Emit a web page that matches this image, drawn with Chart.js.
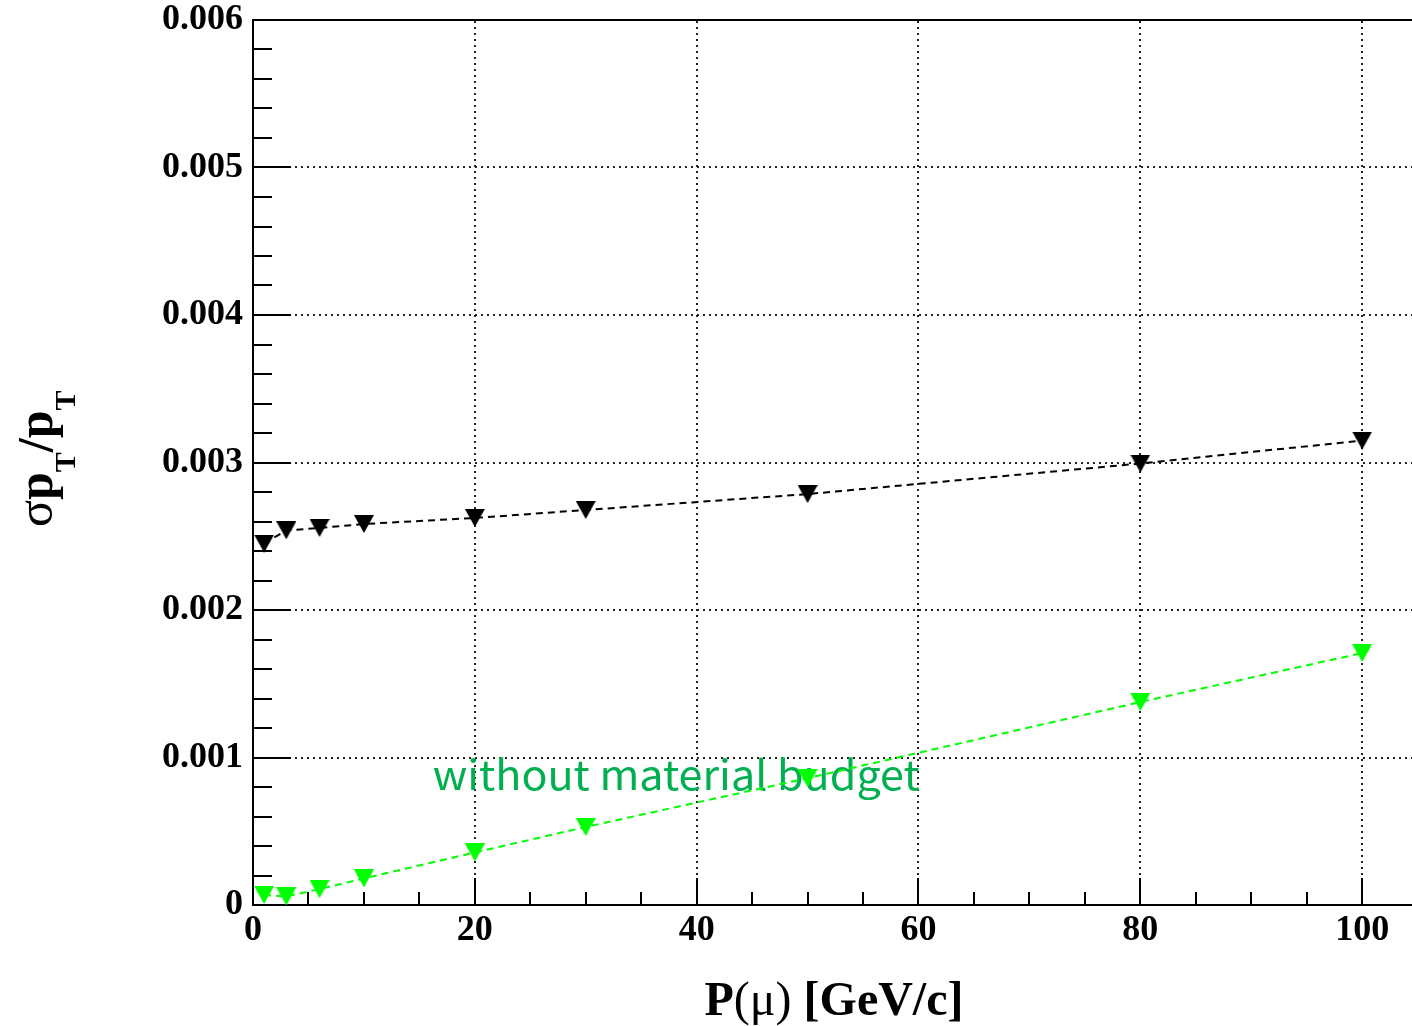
<!DOCTYPE html>
<html>
<head>
<meta charset="utf-8">
<title>pT resolution vs muon momentum</title>
<script src="https://cdn.jsdelivr.net/npm/chart.js@4.4.1/dist/chart.umd.min.js"></script>
<style>
	html, body { margin: 0; padding: 0; background: #fff; overflow: hidden; }
	#resolutionGraph { display: block; }
</style>
</head>
<body>
<canvas id="resolutionGraph" width="1412" height="1026"></canvas>
<script>
// muon momentum points [GeV/c]
const momentum = [1, 3, 6, 10, 20, 30, 50, 80, 100];
// sigma(pT)/pT, full detector
const withMaterial = [0.00245, 0.00254, 0.002556, 0.002583, 0.002624, 0.002678, 0.002786, 0.002993, 0.003149];
// sigma(pT)/pT, material budget switched off
const withoutMaterial = [0.000068, 0.000058, 0.000108, 0.00018, 0.000356, 0.000529, 0.00086, 0.001376, 0.001708];

const xTicks = [0, 20, 40, 60, 80, 100];
const yTicks = [0, 0.001, 0.002, 0.003, 0.004, 0.005, 0.006];
const xRange = [0, 104.45];
const yRange = [0, 0.006];

const SERIF = "'Liberation Serif', 'Times New Roman', serif";
const noMaterialLabel = "without material budget";

// downward triangle, centred on its bounding box
const makeTriangle = (color) => {
	const c = document.createElement("canvas");
	c.width = 20;
	c.height = 18;
	const g = c.getContext("2d");
	g.fillStyle = color;
	g.beginPath();
	g.moveTo(0, 0);
	g.lineTo(20, 0);
	g.lineTo(10, 18);
	g.closePath();
	g.fill();
	return c;
};

const toPoints = (ys) => momentum.map((x, i) => ({ x, y: ys[i] }));

// grid, axis frame and inward ticks
const framePlugin = {
	id: "frame",
	beforeDatasetsDraw(chart) {
		const { ctx, scales: { x, y } } = chart;
		const a = { ...chart.chartArea, right: chart.width };
		ctx.save();

		// dotted grid at the major ticks
		ctx.strokeStyle = "#222";
		ctx.lineWidth = 2;
		ctx.setLineDash([2, 4]);
		xTicks.forEach((v) => {
			if (v === 0) return;
			const px = Math.round(x.getPixelForValue(v));
			ctx.beginPath();
			ctx.moveTo(px, a.bottom);
			ctx.lineTo(px, a.top);
			ctx.stroke();
		});
		yTicks.forEach((v) => {
			if (v === 0 || v === yRange[1]) return;
			const py = Math.round(y.getPixelForValue(v));
			ctx.beginPath();
			ctx.moveTo(a.left, py);
			ctx.lineTo(a.right, py);
			ctx.stroke();
		});
		ctx.setLineDash([]);

		// frame: left, bottom, top
		ctx.strokeStyle = "#000";
		ctx.lineWidth = 2;
		ctx.beginPath();
		ctx.moveTo(a.right, a.top);
		ctx.lineTo(a.left, a.top);
		ctx.lineTo(a.left, a.bottom);
		ctx.lineTo(a.right, a.bottom);
		ctx.stroke();

		// x ticks: major every 20, minor every 5
		ctx.beginPath();
		for (let v = 0; v <= xRange[1]; v += 5) {
			const px = Math.round(x.getPixelForValue(v));
			const len = v % 20 === 0 ? 27 : 13;
			ctx.moveTo(px, a.bottom);
			ctx.lineTo(px, a.bottom - len);
		}
		// y ticks: major every 0.001, minor every 0.0002
		for (let i = 0; i <= 30; i++) {
			const py = Math.round(y.getPixelForValue(i * 0.0002));
			const len = i % 5 === 0 ? 38 : 19;
			ctx.moveTo(a.left, py);
			ctx.lineTo(a.left + len, py);
		}
		ctx.stroke();

		// series label, stretched to its fixed width
		ctx.fillStyle = "#00b050";
		ctx.font = "41px 'Noto Sans CJK JP', 'Noto Sans', sans-serif";
		ctx.textBaseline = "alphabetic";
		ctx.textAlign = "left";
		const lx = x.getPixelForValue(16.2);
		const ly = y.getPixelForValue(0.00078);
		const stretch = 487 / ctx.measureText(noMaterialLabel).width;
		ctx.translate(lx, ly);
		ctx.scale(stretch, 1);
		ctx.fillText(noMaterialLabel, 0, 0);

		ctx.restore();
	},
	afterDraw(chart) {
		const { ctx } = chart;
		ctx.save();
		ctx.fillStyle = "#000";
		ctx.textBaseline = "alphabetic";
		ctx.textAlign = "left";

		// x axis title: P(mu) [GeV/c]
		const parts = [
			["P", "bold 48px " + SERIF],
			["(\u03bc)", "48px " + SERIF],
			[" [GeV/c]", "bold 48px " + SERIF],
		];
		let total = 0;
		parts.forEach(([t, f]) => { ctx.font = f; total += ctx.measureText(t).width; });
		let cx = 834 - total / 2;
		parts.forEach(([t, f]) => {
			ctx.font = f;
			ctx.fillText(t, cx, 1015);
			cx += ctx.measureText(t).width;
		});

		// y axis title: sigma pT / pT, rotated
		ctx.translate(52, 527);
		ctx.rotate(-Math.PI / 2);
		const yParts = [
			["\u03c3", "50px " + SERIF, 0],
			["p", "bold 50px " + SERIF, 0],
			["T", "bold 30px " + SERIF, 23],
			["/", "bold 50px " + SERIF, 0],
			["p", "bold 50px " + SERIF, 0],
			["T", "bold 30px " + SERIF, 23],
		];
		let tx = 0;
		yParts.forEach(([t, f, dy]) => {
			ctx.font = f;
			ctx.fillText(t, tx, dy);
			tx += ctx.measureText(t).width;
		});
		ctx.restore();
	},
};

// markers are canvas images, so the radius only has to be non-zero
const seriesStyle = (color) => ({
	showLine: true,
	borderColor: color,
	borderWidth: 2,
	borderDash: [7, 5],
	pointStyle: makeTriangle(color),
	pointRadius: 0.5,
	pointHoverRadius: 0,
	pointBorderWidth: 0,
});

const resolutionChart = new Chart(document.getElementById("resolutionGraph"), {
	type: "scatter",
	data: {
		datasets: [
			{ label: "with material", data: toPoints(withMaterial), ...seriesStyle("#000") },
			{ label: noMaterialLabel, data: toPoints(withoutMaterial), ...seriesStyle("#00ff00") },
		],
	},
	options: {
		responsive: false,
		animation: false,
		devicePixelRatio: 1,
		layout: { padding: { top: 20, right: 0, bottom: 0, left: 0 } },
		plugins: {
			legend: { display: false },
			tooltip: { enabled: false },
		},
		scales: {
			x: {
				type: "linear",
				min: xRange[0],
				max: xRange[1],
				afterBuildTicks: (s) => { s.ticks = xTicks.map((value) => ({ value })); },
				afterFit: (s) => {
					s.height = 121;
					s.paddingLeft = 0;
					s.paddingRight = 0;
				},
				grid: { display: false, drawTicks: false },
				border: { display: false },
				ticks: {
					padding: 4,
					color: "#000",
					maxRotation: 0,
					font: { family: SERIF, weight: "bold", size: 36 },
					callback: (v) => String(v),
				},
			},
			y: {
				type: "linear",
				min: yRange[0],
				max: yRange[1],
				afterBuildTicks: (s) => { s.ticks = yTicks.map((value) => ({ value })); },
				afterFit: (s) => {
					s.width = 253;
					s.paddingTop = 0;
					s.paddingBottom = 0;
				},
				grid: { display: false, drawTicks: false },
				border: { display: false },
				ticks: {
					padding: 10,
					color: "#000",
					font: { family: SERIF, weight: "bold", size: 36 },
					callback: (v) => (v === 0 ? "0" : v.toFixed(3)),
				},
			},
		},
	},
	plugins: [framePlugin],
});
</script>
</body>
</html>
